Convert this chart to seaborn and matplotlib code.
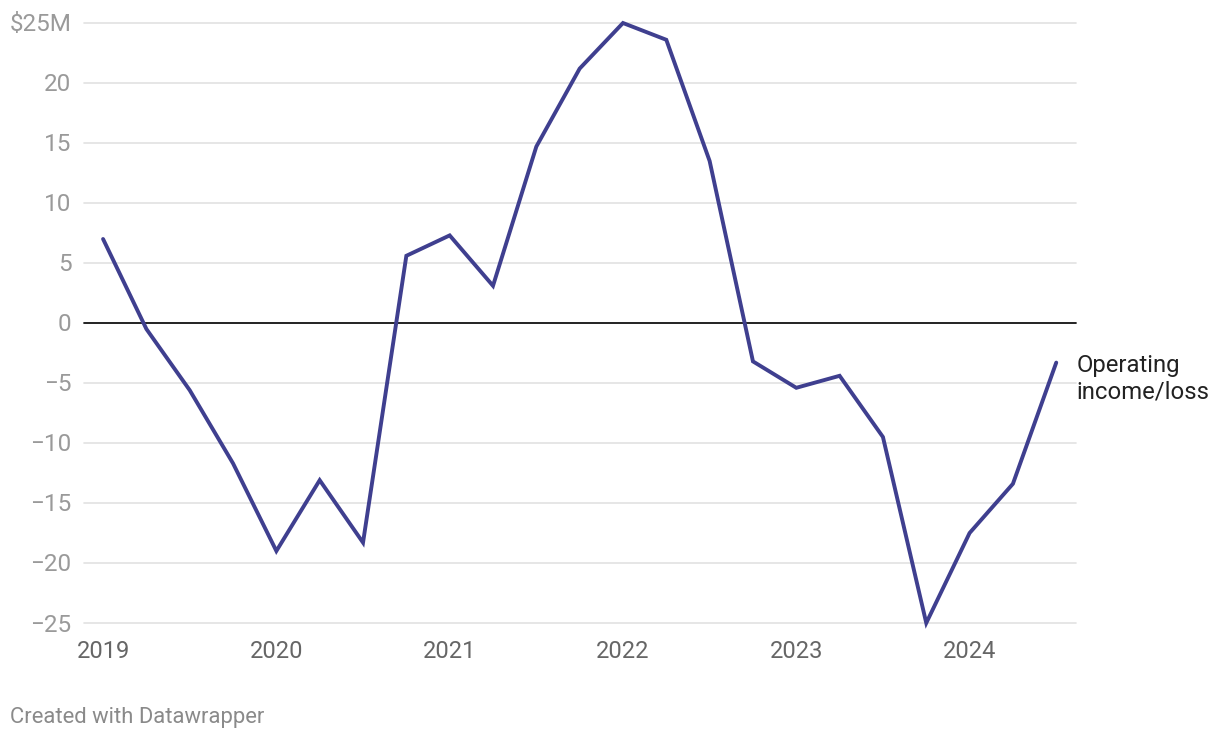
import matplotlib
matplotlib.use("Agg")
import matplotlib.pyplot as plt
import matplotlib.transforms as mtransforms
import seaborn as sns
import pandas as pd

years = [2019, 2020, 2021, 2022, 2023, 2024]
quarters = [2019.0, 2019.25, 2019.5, 2019.75,
            2020.0, 2020.25, 2020.5, 2020.75,
            2021.0, 2021.25, 2021.5, 2021.75,
            2022.0, 2022.25, 2022.5, 2022.75,
            2023.0, 2023.25, 2023.5, 2023.75,
            2024.0, 2024.25, 2024.5]
operating_income = [7.0, -0.5, -5.6, -11.7,
                    -19.0, -13.1, -18.3, 5.6,
                    7.3, 3.1, 14.7, 21.2,
                    25.0, 23.6, 13.5, -3.2,
                    -5.4, -4.4, -9.5, -25.0,
                    -17.5, -13.4, -3.3]
y_ticks = [-25, -20, -15, -10, -5, 0, 5, 10, 15, 20, 25]
y_labels = ["\u221225", "\u221220", "\u221215", "\u221210", "\u22125", "0", "5", "10", "15", "20", "$25M"]
series_label = "Operating\nincome/loss"

sns.set_theme(style="white")
plt.rcParams['font.family'] = ['Roboto', 'DejaVu Sans']

df = pd.DataFrame({"t": quarters, "v": operating_income})

W, H = 1220, 740
fig = plt.figure(figsize=(W / 100, H / 100), dpi=100)
ax = fig.add_axes([84 / W, 1 - 623 / H, (1076 - 84) / W, (623 - 23) / H])

ax.set_xlim(2018.890, 2024.614)
ax.set_ylim(-25, 25)

for yt in y_ticks:
    if yt == 0:
        continue
    ax.axhline(yt, color="#e2e2e2", lw=1.2, zorder=0, clip_on=False)
ax.axhline(0, color="#111111", lw=1.3, zorder=1)

sns.lineplot(data=df, x="t", y="v", ax=ax, color="#3f3f8f", lw=2.8, zorder=3,
             solid_joinstyle="miter")
for l in ax.lines:
    l.set_clip_on(False)

for s in ax.spines.values():
    s.set_visible(False)

ax.set_yticks(y_ticks)
ax.set_yticklabels(y_labels)
ax.tick_params(axis="y", length=0, pad=9.0, labelsize=17.5, labelcolor="#9a9a9a")
shift = mtransforms.ScaledTranslation(0, -2 / 100, fig.dpi_scale_trans)
for t in ax.get_yticklabels():
    t.set_verticalalignment("center")
    t.set_transform(t.get_transform() + shift)

ax.set_xticks(years)
ax.set_xticklabels([str(y) for y in years])
ax.tick_params(axis="x", length=0, pad=12, labelsize=17, labelcolor="#666666")

ax.set_xlabel("")
ax.set_ylabel("")

ax.annotate(series_label, xy=(quarters[-1], operating_income[-1]), xytext=(14.4, -11.5),
            textcoords="offset points", ha="left", va="center",
            fontsize=17.2, color="#222222", linespacing=1.2, annotation_clip=False)

fig.text(10 / W, 1 - 717 / H, "Created with Datawrapper", ha="left", va="center",
         fontsize=15.8, color="#8a8a8a")

fig.savefig("out.png", dpi=100, facecolor="white")
